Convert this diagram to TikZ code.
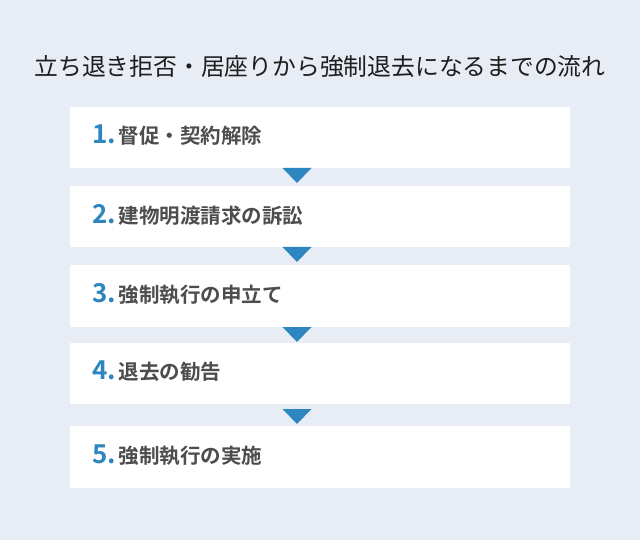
\documentclass[tikz,border=0pt]{standalone}
\usepackage{fontspec}
\usetikzlibrary{calc}
\setmainfont{Noto Sans CJK JP}[BoldFont={Noto Sans CJK JP Bold}]
\definecolor{bgc}{HTML}{E8ECF4}
\definecolor{numblue}{HTML}{2E86C1}
\definecolor{txtgray}{HTML}{4D4D4D}
\definecolor{titlec}{HTML}{1E1E1E}
\tikzset{
  stepbox/.style={fill=white, draw=none, minimum width=500pt, inner sep=0pt, anchor=north},
  steplabel/.style={anchor=west, inner sep=0pt, text=txtgray, font=\bfseries\fontsize{20.5}{24}\selectfont},
  arrowtri/.style={fill=numblue, draw=none},
}
\newcommand{\stepnum}[1]{\textcolor{numblue}{\fontsize{26}{26}\selectfont #1.}\hspace{3pt}}
\begin{document}
\begin{tikzpicture}[x=1pt,y=-1pt]
\fill[bgc] (0,0) rectangle (640,540);
\useasboundingbox (0,0) rectangle (640,540);
\node[text=titlec, font=\fontsize{23.8}{28}\selectfont, inner sep=0pt] (title) at (320,67) {立ち退き拒否・居座りから強制退去になるまでの流れ};

\node[stepbox, minimum height=61pt] (s1) at (320,107) {};
\node[stepbox, minimum height=61pt] (s2) at (320,186) {};
\node[stepbox, minimum height=62pt] (s3) at (320,265) {};
\node[stepbox, minimum height=61pt] (s4) at (320,343) {};
\node[stepbox, minimum height=62pt] (s5) at (320,426) {};

\node[steplabel] (l1) at (92,135.5) {\stepnum{1}督促・契約解除};
\node[steplabel] (l2) at (92,214.5) {\stepnum{2}建物明渡請求の訴訟};
\node[steplabel] (l3) at (92,294) {\stepnum{3}強制執行の申立て};
\node[steplabel] (l4) at (92,371.5) {\stepnum{4}退去の勧告};
\node[steplabel] (l5) at (92,455) {\stepnum{5}強制執行の実施};

\coordinate (t1) at (297,168);
\coordinate (t2) at (297,247);
\coordinate (t3) at (297,327);
\coordinate (t4) at (297,409);
\foreach \t in {t1,t2,t3,t4}{
  \fill[arrowtri] ($(\t)+(-14.5,0)$) -- ($(\t)+(14.5,0)$) -- ($(\t)+(0,15)$) -- cycle;
}
\end{tikzpicture}
\end{document}
